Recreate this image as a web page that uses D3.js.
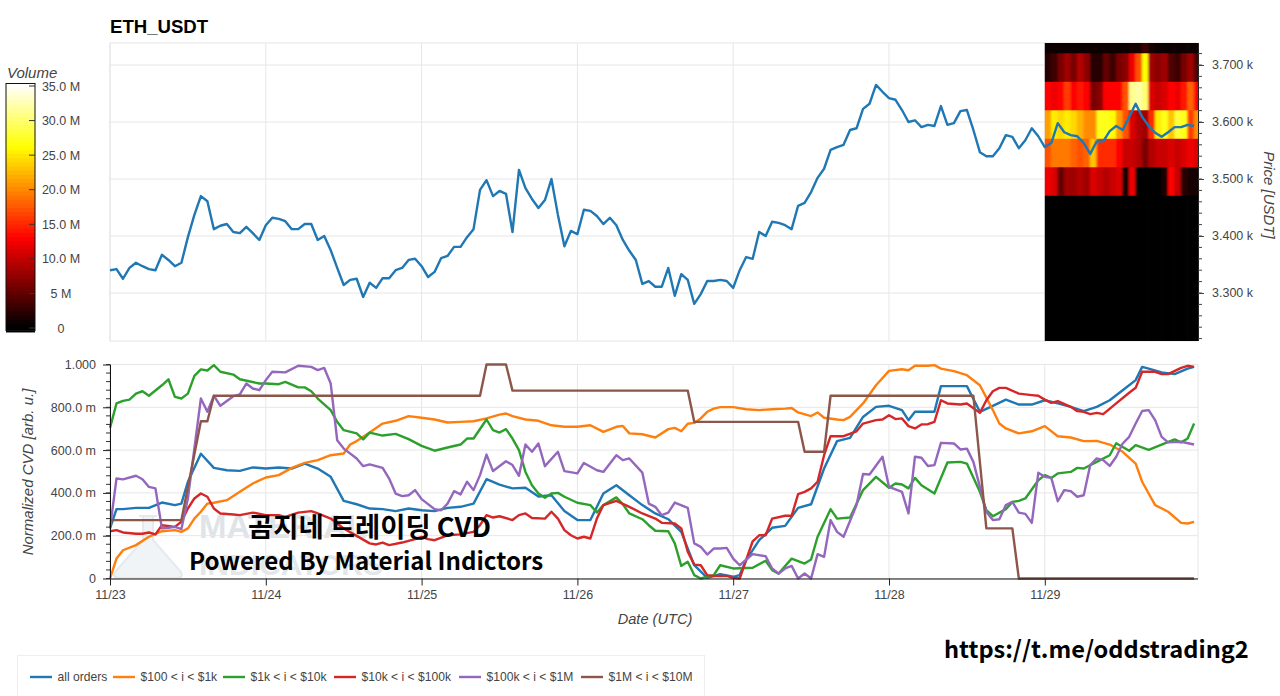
<!DOCTYPE html>
<html><head><meta charset="utf-8">
<script src="https://cdn.jsdelivr.net/npm/d3@7"></script>
<style>
html,body{margin:0;padding:0;background:#fff;overflow:hidden}
svg{display:block}
text{font-family:"Liberation Sans",Arial,sans-serif}
</style></head><body>
<svg id="c" width="1280" height="696"></svg>
<script>
const chartTitle="ETH_USDT";
const dayTicks=[0,24,48,72,96,120,144];
const dayLabels=["11/23","11/24","11/25","11/26","11/27","11/28","11/29"];
const priceTicks=[3300,3400,3500,3600,3700];
const priceLabels=["3.300 k","3.400 k","3.500 k","3.600 k","3.700 k"];
const cvdTicks=[0,200,400,600,800,1000];
const cvdLabels=["0","200.0 m","400.0 m","600.0 m","800.0 m","1.000"];
const volTicks=[0,5,10,15,20,25,30,35];
const volLabels=["0","5 M","10.0 M","15.0 M","20.0 M","25.0 M","30.0 M","35.0 M"];
const seriesNames=["all orders","$100 < i < $1k","$1k < i < $10k","$10k < i < $100k","$100k < i < $1M","$1M < i < $10M"];
const seriesColors=["#1f77b4","#ff7f0e","#2ca02c","#d62728","#9467bd","#8c564b"];

// hourly price, USDT
const price=[3340,3342,3325,3344,3353,3347,3342,3340,3367,3358,3347,3353,3398,3437,3470,3461,3412,3418,3421,3407,3405,3416,3405,3393,
3419,3432,3430,3426,3412,3412,3421,3421,3393,3400,3375,3344,3314,3323,3325,3293,3318,3309,3326,3326,3340,3344,3358,3360,
3347,3328,3337,3361,3365,3381,3381,3398,3412,3481,3498,3470,3479,3474,3407,3516,3484,3465,3449,3463,3500,3437,3382,3409,
3403,3446,3444,3435,3421,3432,3419,3393,3374,3358,3316,3321,3311,3311,3344,3295,3333,3323,3281,3298,3321,3321,3323,3321,
3309,3340,3363,3360,3407,3400,3425,3423,3419,3412,3453,3458,3477,3502,3518,3551,3556,3560,3586,3589,3623,3632,3665,3653,
3642,3639,3621,3600,3603,3591,3595,3593,3628,3595,3598,3619,3621,3586,3547,3540,3540,3554,3577,3574,3554,3568,3589,3575,
3556,3563,3598,3582,3577,3575,3563,3544,3566,3566,3584,3593,3586,3609,3632,3609,3593,3581,3574,3582,3591,3591,3595,3593];

// volume heat map: hour columns, price bins (million)
const heatHourStart=144;
const heatEdges=[3190,3472,3522,3572,3622,3672,3722,3772];
const heatRows=[
[0,0,0,0,0,0,0,0,0,0,0,0,0,0,0,0,0,0,0,0,0,0,0,0],
[12,11,5,8,8,9,8,11,10,9,10,11,1,12,0,0,0,0,1,13,10,2,1,1],
[17,19,19,19,18,17,18,23,15,15,15,13,10,10,9,6,9,10,10,11,10,11,12,11],
[21,25,24,25,24,22,20,20,27,27,26,21,17,11,9,8,15,25,27,23,28,27,16,20],
[13,12,13,16,13,14,13,6,7,13,13,13,17,31,32,30,11,10,11,13,12,14,18,13],
[2,3,6,8,6,9,7,2,2,5,3,6,7,12,17,26,8,7,8,4,3,6,8,4],
[0.5,0.5,0.5,0.5,0.5,0.5,0.5,0.5,0.5,0.5,0.5,0.5,0.5,1,1,3,1,0.5,0.5,0.5,0.5,0.5,0.5,0.5]];

// normalized CVD (thousandths), read at the listed hours
const hoursAll=[0,1,2,4,6,8,10,11,12,14,16,18,20,22,24,26,28,30,32,34,36,38,40,42,44,46,48,50,52,54,56,58,60,62,64,66,68,70,72,74,76,78,80,82,84,86,88,90,92,94,96,97,98,100,102,104,106,108,110,112,114,116,118,120,122,123,124,126,127,128,130,132,134,136,138,140,142,144,146,148,150,152,154,156,158,159,160,162,164,166,167];
const cvdAll=[234,324,324,330,330,355,343,350,452,583,517,506,503,519,514,519,514,537,514,475,363,347,327,324,315,327,319,315,330,335,350,464,439,421,424,383,389,315,273,273,397,436,389,343,304,277,218,62,3,20,8,16,86,179,237,246,330,347,514,642,657,755,802,807,787,740,779,779,779,899,899,899,779,807,836,813,813,833,818,802,782,802,833,880,927,989,981,963,955,981,989];
const hoursOrange=[0,1,2,4,6,8,10,11,12,13,14,15,16,18,20,22,24,26,28,30,32,34,36,37,38,40,42,44,46,48,50,52,54,56,58,60,61,62,64,66,68,70,72,74,76,78,79,80,82,84,86,87,88,89,90,91,92,93,94,96,98,100,102,104,105,106,108,109,110,112,113,114,116,118,120,122,123,124,126,127,128,130,132,134,136,137,138,140,142,144,146,148,150,152,154,156,158,159,160,161,163,165,166,167];
const cvdOrange=[0,93,132,156,195,221,226,218,234,280,312,350,354,366,405,444,472,483,517,540,553,576,584,626,642,682,724,737,759,751,743,729,732,735,748,766,771,759,743,737,716,709,709,716,685,709,713,678,674,659,698,704,688,723,727,748,779,794,801,801,791,787,791,794,797,776,759,776,751,743,740,755,818,903,970,978,973,994,994,997,981,969,950,903,787,724,701,678,688,712,665,659,642,643,626,592,537,452,397,343,312,260,257,265];
const hoursGreen=[0,1,2,3,4,5,6,8,9,10,11,12,13,14,15,16,17,19,20,23,24,26,27,29,30,31,32,34,35,36,38,39,40,42,44,46,48,50,52,54,55,56,58,59,60,61,62,63,64,65,66,67,68,69,70,72,74,75,76,78,79,80,82,83,84,86,87,88,89,90,91,93,94,96,99,101,102,103,105,107,108,109,111,112,114,116,118,120,121,122,123,124,125,127,129,131,132,134,135,136,138,139,140,141,143,144,145,146,148,149,150,152,154,155,157,158,160,162,164,165,166,167];
const cvdGreen=[704,818,830,836,864,875,854,903,931,849,841,864,947,977,972,997,966,953,931,911,911,908,919,893,893,875,841,787,732,693,678,650,682,668,676,651,620,597,612,626,654,654,743,693,682,698,654,600,498,436,397,377,397,400,382,354,343,308,343,379,347,304,277,249,223,221,164,59,78,16,0,16,62,47,50,83,39,23,93,70,89,195,324,280,285,413,475,424,444,439,421,470,436,397,542,545,537,405,319,291,324,358,363,374,459,483,470,491,498,517,514,545,576,632,597,623,601,626,650,636,654,724];
const hoursRed=[0,1,2,4,5,6,7,8,10,11,12,13,14,15,16,17,19,20,22,24,26,27,29,31,32,34,36,38,40,41,42,43,45,47,48,49,50,52,54,56,57,58,59,60,62,63,64,65,67,68,69,70,71,72,73,74,75,76,78,80,82,84,85,87,88,89,90,91,92,93,95,96,97,99,100,101,102,104,105,106,107,108,109,110,111,113,115,116,118,119,120,121,122,123,124,125,126,127,128,129,131,132,134,135,136,137,138,140,142,143,144,145,146,148,149,150,151,152,153,155,157,158,159,161,162,163,165,166,167];
const cvdRed=[221,226,215,209,209,215,206,249,241,265,327,374,397,382,327,304,299,296,308,296,296,288,308,315,304,280,234,199,164,159,168,156,168,184,195,184,179,202,206,218,249,296,285,291,273,296,304,283,280,312,280,226,202,187,195,187,280,343,363,335,304,280,260,257,234,125,65,62,16,12,12,3,0,174,202,202,280,293,293,394,405,421,452,576,665,665,688,724,740,743,763,745,748,712,701,720,721,732,833,818,813,818,774,833,875,891,891,864,857,854,836,821,829,802,782,779,768,774,768,818,868,891,966,966,955,955,984,994,989];
const hoursPurple=[0,1,2,4,5,6,7,8,9,10,11,12,14,15,16,17,19,20,21,22,23,24,25,27,29,31,32,33,34,35,36,38,39,40,42,43,44,45,46,47,48,50,51,52,53,54,55,56,57,58,59,61,62,63,64,65,66,67,69,70,72,73,75,76,78,79,80,82,83,84,85,86,87,89,90,91,92,93,94,95,96,97,99,101,102,103,104,105,106,107,108,109,110,111,112,113,115,116,117,119,120,122,123,124,125,126,127,128,130,131,132,133,134,135,136,137,138,139,140,141,142,143,144,145,146,147,148,149,150,151,152,153,154,155,156,157,158,159,160,161,162,163,165,167];
const cvdPurple=[234,467,463,480,464,428,421,234,237,241,231,374,841,779,854,807,852,860,911,888,880,927,966,963,994,989,974,984,911,646,607,561,525,533,517,467,397,385,389,413,371,324,319,350,408,393,452,413,483,579,502,548,530,480,626,592,631,525,592,502,491,540,506,498,576,553,561,495,350,335,296,308,355,330,164,148,112,140,140,143,93,62,114,104,47,23,47,59,0,23,0,114,101,273,218,195,343,488,486,569,428,405,304,569,564,526,530,634,631,603,607,545,428,312,273,277,343,358,308,302,260,494,475,470,361,413,408,382,389,530,561,553,526,569,631,662,724,783,787,740,662,636,639,626];
const hoursBrown=[0,11,14,15,16,57,58,61,62,89,90,106,107,110,111,133,135,139,140,167];
const cvdBrown=[273,273,735,735,854,854,1000,1000,878,878,732,732,592,592,854,854,234,234,0,0];
const seriesHours=[hoursAll,hoursOrange,hoursGreen,hoursRed,hoursPurple,hoursBrown];
const seriesValues=[cvdAll,cvdOrange,cvdGreen,cvdRed,cvdPurple,cvdBrown];

const svg=d3.select("#c");
const L=110,R=1198,T1=43,B1=341,T2=364.5,B2=578.5;
const x=d3.scaleLinear().domain([0,167.6]).range([L,R]);
const yP=d3.scaleLinear().domain([3300,3700]).range([293,65]);
const yC=d3.scaleLinear().domain([0,1000]).range([B2,T2]);
const yV=d3.scaleLinear().domain([0,35]).range([328,86]);
const heat=d3.scaleLinear().domain([0,12.8,26,35]).range(["#000000","#ff0000","#ffff00","#ffffff"]).clamp(true);
const GRID="#e6e6e6",INK="#444",LW=2.4;

const defs=svg.append("defs");
defs.append("clipPath").attr("id","cp1").append("rect").attr("x",L).attr("y",T1).attr("width",R-L).attr("height",B1-T1);
defs.append("clipPath").attr("id","cpH").append("rect").attr("x",x(heatHourStart)).attr("y",T1).attr("width",R-x(heatHourStart)).attr("height",B1-T1);
defs.append("filter").attr("id","soft").attr("filterUnits","userSpaceOnUse").attr("x",1020).attr("y",0).attr("width",220).attr("height",420)
  .append("feGaussianBlur").attr("stdDeviation","1.2 0.4");

// title
svg.append("text").attr("x",110).attr("y",33).attr("font-size",18.6).attr("font-weight","bold").attr("fill","#000").text(chartTitle);

// ---- price panel
const p1=svg.append("g");
p1.selectAll("line.gx").data(dayTicks).join("line").attr("x1",d=>x(d)).attr("x2",d=>x(d)).attr("y1",T1).attr("y2",B1).attr("stroke",GRID);
p1.selectAll("line.gy").data(priceTicks).join("line").attr("x1",L).attr("x2",R).attr("y1",d=>yP(d)).attr("y2",d=>yP(d)).attr("stroke",GRID);
p1.append("rect").attr("x",L).attr("y",T1).attr("width",R-L).attr("height",B1-T1).attr("fill","none").attr("stroke",GRID);

const hm=p1.append("g").attr("clip-path","url(#cpH)").append("g").attr("filter","url(#soft)");
heatRows.forEach((row,r)=>{
  hm.selectAll(null).data(row).join("rect")
    .attr("x",(d,i)=>x(heatHourStart+i)-(i===0?6:0.3))
    .attr("width",(d,i)=>x(heatHourStart+i+1)-x(heatHourStart+i)+(i===row.length-1?8:0.6)+(i===0?6:0))
    .attr("y",yP(heatEdges[r+1]))
    .attr("height",yP(heatEdges[r])-yP(heatEdges[r+1])+0.8)
    .attr("fill",d=>heat(d));
});
p1.append("path").attr("clip-path","url(#cp1)").datum(price).attr("fill","none").attr("stroke",seriesColors[0]).attr("stroke-width",LW)
  .attr("stroke-linejoin","round").attr("d",d3.line().x((d,i)=>x(i)).y(d=>yP(d)));

const axR=svg.append("g").attr("transform",`translate(${R},0)`)
  .call(d3.axisRight(yP).tickValues(priceTicks).tickSize(6).tickPadding(8).tickFormat((d,i)=>priceLabels[i]));
axR.selectAll("text").attr("font-size",12.5).attr("dy","0.27em").attr("fill",INK).style("font-family",'"Liberation Sans",Arial,sans-serif');
axR.selectAll("line").attr("stroke",INK);
axR.select(".domain").attr("stroke","#222").attr("d",`M0.5,${T1}V${B1}`);
svg.append("g").attr("transform",`translate(${R},0)`)
  .selectAll("line").data(d3.range(3220,3740,20)).join("line")
  .attr("x1",0).attr("x2",4).attr("y1",d=>yP(d)).attr("y2",d=>yP(d)).attr("stroke",INK);
svg.append("text").attr("transform","translate(1264,195) rotate(90)").attr("text-anchor","middle")
  .attr("font-size",15).attr("font-style","italic").attr("fill",INK).text("Price [USDT]");

// ---- colour bar
const cb=svg.append("g");
const stepVals=d3.range(-0.5,35.5,0.6);
cb.selectAll("rect.s").data(stepVals).join("rect").attr("x",6).attr("width",29)
  .attr("y",d=>yV(d+0.6)).attr("height",yV(0)-yV(0.6)+1).attr("fill",d=>heat(Math.max(0,d)));
cb.append("rect").attr("x",6).attr("y",83.5).attr("width",29).attr("height",247).attr("fill","none").attr("stroke","#111").attr("stroke-width",1);
cb.selectAll("line.t").data(volTicks).join("line").attr("x1",29).attr("x2",35).attr("y1",d=>yV(d)).attr("y2",d=>yV(d)).attr("stroke","#333");
cb.selectAll("text.t").data(volTicks).join("text").attr("x",61).attr("y",d=>yV(d)+4.5).attr("text-anchor","middle")
  .attr("font-size",12.5).attr("fill",INK).text((d,i)=>volLabels[i]);
svg.append("text").attr("x",7).attr("y",78).attr("font-size",15).attr("font-style","italic").attr("fill",INK).text("Volume");

// ---- CVD panel
const p2=svg.append("g");
// watermark behind the lines
const wm=p2.append("g");
wm.append("path").attr("d","M139 516 L157 516 M143 516 L143 540 L115 572 Q112 578 120 578 L176 578 Q184 578 181 572 L153 540 L153 516")
  .attr("fill","#f0f4f6").attr("stroke","#e6eaec").attr("stroke-width",2);
wm.append("text").attr("x",199).attr("y",538).attr("font-size",33).attr("font-weight","bold").attr("fill","#dfe4e8").text("MATERIAL");
wm.append("text").attr("x",199).attr("y",575).attr("font-size",30).attr("font-weight","bold").attr("fill","#e3e7ea").text("INDICATORS");

p2.selectAll("line.gx").data(dayTicks).join("line").attr("x1",d=>x(d)).attr("x2",d=>x(d)).attr("y1",T2).attr("y2",B2).attr("stroke",GRID);
p2.selectAll("line.gy").data(cvdTicks).join("line").attr("x1",L).attr("x2",R).attr("y1",d=>yC(d)).attr("y2",d=>yC(d)).attr("stroke",GRID);
p2.append("rect").attr("x",L).attr("y",T2).attr("width",R-L).attr("height",B2-T2).attr("fill","none").attr("stroke",GRID);

seriesValues.forEach((vals,s)=>{
  const hrs=seriesHours[s];
  p2.append("path").datum(vals).attr("fill","none").attr("stroke",seriesColors[s]).attr("stroke-width",LW)
    .attr("stroke-linejoin","round").attr("d",d3.line().x((d,i)=>x(hrs[i])).y(d=>yC(d)));
});

const axL=svg.append("g").attr("transform",`translate(${L},0)`)
  .call(d3.axisLeft(yC).tickValues(cvdTicks).tickSize(7).tickPadding(7).tickFormat((d,i)=>cvdLabels[i]));
axL.selectAll("text").attr("font-size",12.5).attr("fill",INK).style("font-family",'"Liberation Sans",Arial,sans-serif');
axL.selectAll("line").attr("stroke","#222");
axL.select(".domain").attr("stroke","#111").attr("d",`M0.5,${T2}V${B2}`);
svg.append("g").attr("transform",`translate(${L},0)`).selectAll("line").data(d3.range(0,1001,40)).join("line")
  .attr("x1",-4).attr("x2",0).attr("y1",d=>yC(d)).attr("y2",d=>yC(d)).attr("stroke","#333");

const axB=svg.append("g").attr("transform",`translate(0,${B2})`)
  .call(d3.axisBottom(x).tickValues(dayTicks).tickSize(7).tickPadding(5).tickFormat((d,i)=>dayLabels[i]));
axB.selectAll("text").attr("font-size",12.5).attr("fill",INK).style("font-family",'"Liberation Sans",Arial,sans-serif');
axB.selectAll("line").attr("stroke","#222");
axB.select(".domain").attr("stroke","#111").attr("d",`M${L},0.5H${R}`);

svg.append("text").attr("x",655).attr("y",624).attr("text-anchor","middle").attr("font-size",14.6).attr("font-style","italic").attr("fill",INK).text("Date (UTC)");
svg.append("text").attr("transform","translate(33,472) rotate(-90)").attr("text-anchor","middle").attr("font-size",15).attr("font-style","italic").attr("fill",INK).text("Normalized CVD [arb. u.]");

// ---- overlay captions
const KR='"Noto Sans CJK KR","Noto Sans",sans-serif';
svg.append("text").attr("x",248).attr("y",537).attr("font-size",27.4).attr("font-weight",700).style("font-family",KR).attr("fill","#000").text("곰지네 트레이딩 CVD");
svg.append("text").attr("x",189).attr("y",570).attr("font-size",24.1).attr("font-weight",700).style("font-family",KR).attr("fill","#000").text("Powered By Material Indictors");
svg.append("text").attr("x",944).attr("y",658).attr("font-size",23.6).attr("font-weight",700).style("font-family",KR).attr("fill","#000").text("https://t.me/oddstrading2");

// ---- legend
svg.append("rect").attr("x",17.5).attr("y",655.5).attr("width",687).attr("height",60).attr("fill","#fff").attr("stroke","#eee");
const legendLineX=[30,113,223,334,459,581];
const lg=svg.append("g");
seriesNames.forEach((n,i)=>{
  lg.append("line").attr("x1",legendLineX[i]).attr("x2",legendLineX[i]+22).attr("y1",677).attr("y2",677).attr("stroke",seriesColors[i]).attr("stroke-width",LW);
  lg.append("text").attr("x",legendLineX[i]+27.5).attr("y",681).attr("font-size",12.1).attr("fill",INK).text(n);
});
</script>
</body></html>
